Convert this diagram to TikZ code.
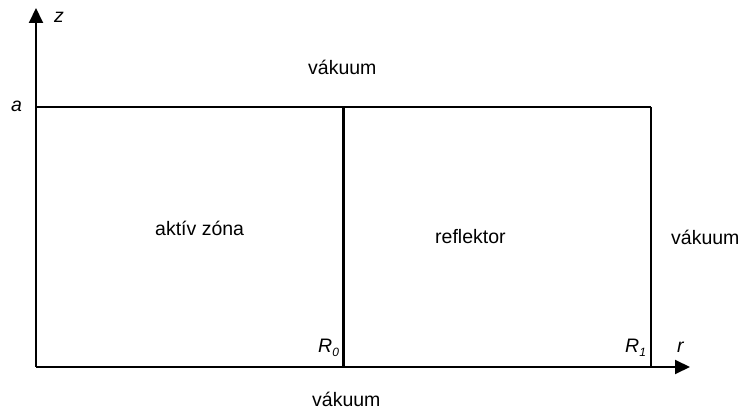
\documentclass[tikz,border=0pt]{standalone}
\usepackage{fontspec}
\setmainfont{Liberation Sans}
\usetikzlibrary{arrows.meta}
\newcommand{\mysub}[1]{\raisebox{-0.35ex}{\fontsize{12}{14}\selectfont\itshape #1}}
\begin{document}
\begin{tikzpicture}[x=1pt,y=-1pt,
  lbl/.style={inner sep=0pt,anchor=base west,font=\fontsize{19.5}{23}\selectfont},
  thinline/.style={line width=1.1pt},
  axisline/.style={line width=2pt,-{Triangle[length=15pt,width=14pt]}},
  thickline/.style={line width=2.6pt}]
\useasboundingbox (0,0) rectangle (740,414);
% coordinates
\coordinate (O) at (36,367);
\coordinate (ztip) at (36,8);
\coordinate (rtip) at (690,367);
\coordinate (A) at (36,107);
\coordinate (TM) at (343.5,107);
\coordinate (TR) at (651,107);
\coordinate (BM) at (343.5,367);
\coordinate (BR) at (651,367);
% lines
\draw[thinline] (A) -- (TR);
\draw[thinline] (TR) -- (BR);
\draw[thickline] (TM) -- (BM);
\draw[thickline] (O) -- (BM);
\draw[axisline] (O) -- (rtip);
\draw[axisline] (O) -- (ztip);
% labels
\node[lbl] (zl) at (54,23) {\textit{z}};
\node[lbl] (al) at (11,112) {\textit{a}};
\node[lbl] (v1) at (308,75) {vákuum};
\node[lbl] (v2) at (671,245) {vákuum};
\node[lbl] (v3) at (312,407) {vákuum};
\node[lbl] (az) at (155,236) {aktív zóna};
\node[lbl] (rf) at (435,244) {reflektor};
\node[lbl] (r0) at (318,353) {\textit{R}\mysub{0}};
\node[lbl] (r1) at (625,353) {\textit{R}\mysub{1}};
\node[lbl] (rl) at (677,353) {\textit{r}};
\end{tikzpicture}
\end{document}
